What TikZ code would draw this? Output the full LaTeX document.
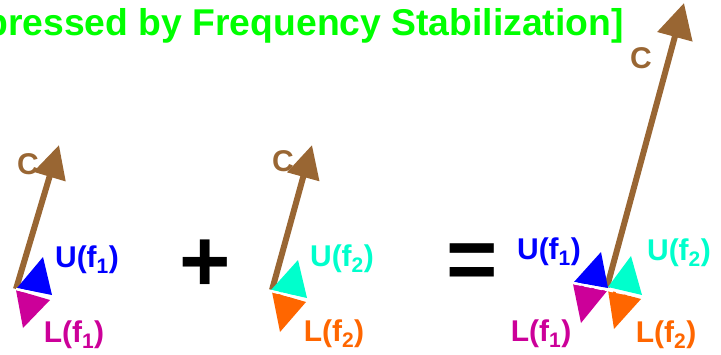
\documentclass[tikz,border=0pt]{standalone}
\usepackage{fontspec}
\setmainfont{Liberation Sans}
\usetikzlibrary{arrows.meta}
\definecolor{cbrown}{HTML}{996633}
\definecolor{cblue}{HTML}{0000FF}
\definecolor{cmagenta}{HTML}{CC0099}
\definecolor{ccyan}{HTML}{00FFCC}
\definecolor{corange}{HTML}{FF6600}
\definecolor{cgreen}{HTML}{00FF00}

\begin{document}
\begin{tikzpicture}[x=1pt, y=-1pt,
        carrier/.style={draw=cbrown, line width=6pt, -{Triangle[length=33pt, width=32pt]}},
        lbl/.style={font=\fontsize{30}{30}\selectfont\bfseries, inner sep=0pt},
        sign/.style={font=\fontsize{88}{88}\selectfont\bfseries, inner sep=0pt},
        gap/.style={white, line width=2.5pt, dash pattern=on 8pt off 3pt}
    ]
        \useasboundingbox (0,0) rectangle (721,354);
        \node[anchor=base east, inner sep=0pt, text=cgreen, font=\fontsize{37.3}{37.3}\selectfont\bfseries] (title) at (624,35) {pressed by Frequency Stabilization]};

        \coordinate (o1) at (16,289);
        \coordinate (o2) at (272,290);
        \coordinate (o3) at (607,287);
        \coordinate (t1) at (59,145);
        \coordinate (t2) at (312,145);
        \coordinate (t3) at (684,3);

        % first frequency
        \draw[carrier] (o1) -- (t1);
        \fill[cblue] (43,257) -- (17,288) -- (52,295) -- cycle;
        \fill[cmagenta] (16,290) -- (50,300) -- (23,328) -- cycle;
        \draw[gap] (16,289) -- (52,297.5);
        \node[lbl, text=cbrown] (c1) at (28,164) {C};
        \node[lbl, text=cblue] (u1) at (87,260) {U(f\textsubscript{1})};
        \node[lbl, text=cmagenta] (l1) at (74,335) {L(f\textsubscript{1})};

        \node[sign] (plus) at (205,266) {+};

        % second frequency
        \draw[carrier] (o2) -- (t2);
        \fill[ccyan] (298,260) -- (271,290) -- (307,298) -- cycle;
        \fill[corange] (272,292) -- (306,302) -- (280,332) -- cycle;
        \draw[gap] (271,291) -- (307,300);
        \node[lbl, text=cbrown] (c2) at (283,161) {C};
        \node[lbl, text=ccyan] (u2) at (342,259) {U(f\textsubscript{2})};
        \node[lbl, text=corange] (l2) at (334,334) {L(f\textsubscript{2})};

        \node[sign] (equals) at (472,267) {=};

        % sum
        \draw[carrier, -{Triangle[length=35pt, width=35pt]}] (o3) -- (t3);
        \fill[cblue] (601,252) -- (574,282) -- (608,288) -- cycle;
        \fill[cmagenta] (573,284) -- (607,291) -- (581,323) -- cycle;
        \fill[ccyan] (631,256) -- (608,287) -- (642,295) -- cycle;
        \fill[corange] (608,290) -- (641,299) -- (614,329) -- cycle;
        \draw[gap] (573,283) -- (642,297);
        \node[lbl, text=cbrown] (c3) at (641,58) {C};
        \node[lbl, text=cblue] (u3) at (549,252) {U(f\textsubscript{1})};
        \node[lbl, text=ccyan] (u4) at (679,253) {U(f\textsubscript{2})};
        \node[lbl, text=cmagenta] (l3) at (541,334) {L(f\textsubscript{1})};
        \node[lbl, text=corange] (l4) at (666,335) {L(f\textsubscript{2})};
\end{tikzpicture}
\end{document}
